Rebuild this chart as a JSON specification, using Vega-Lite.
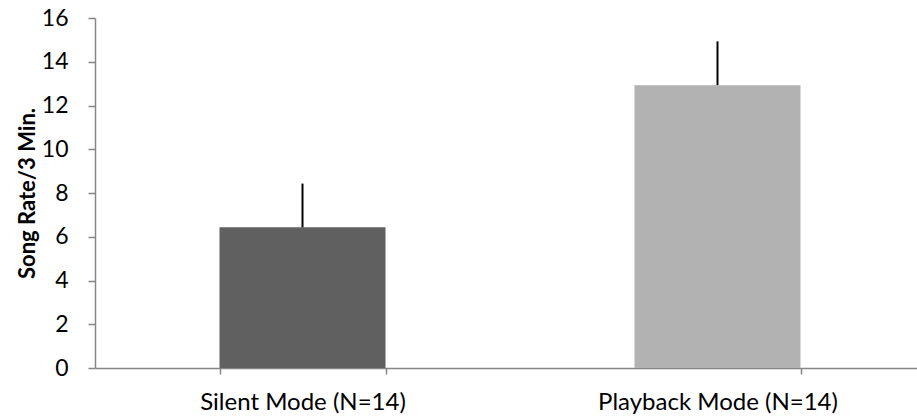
{
  "$schema": "https://vega.github.io/schema/vega-lite/v6.json",
  "autosize": {"type": "none"},
  "padding": {"left": 95, "top": 18, "right": 0, "bottom": 50},
  "width": 830,
  "height": 350,
  "background": "white",
  "config": {"view": {"stroke": null}, "font": "Lato"},
  "data": {"values": [
    {"mode": "Silent Mode (N=14)", "rate": 6.43, "upper": 8.43, "color": "#606060"},
    {"mode": "Playback Mode (N=14)", "rate": 12.93, "upper": 14.93, "color": "#b2b2b2"}
  ]},
  "encoding": {
    "x": {"field": "mode", "type": "nominal", "sort": null,
      "scale": {"paddingInner": 0.6, "paddingOuter": 0.3},
      "axis": {"title": null, "labelAngle": 0, "labelFontSize": 24, "labelColor": "#000000", "labelFont": "Lato", "labelLimit": 0,
        "domainColor": "#868686", "domainWidth": 1.5, "tickColor": "#868686", "tickSize": 6, "tickWidth": 1.5, "tickBand": "extent", "labelPadding": 16, "grid": false}}
  },
  "layer": [
    {
      "mark": {"type": "bar"},
      "encoding": {
        "y": {"field": "rate", "type": "quantitative",
          "scale": {"domain": [0, 16], "nice": false},
          "axis": {"title": "Song Rate/3 Min.", "titleFontSize": 22, "titleFontWeight": "bold", "titleColor": "#000000", "titleFont": "Lato", "titlePadding": 2,
            "values": [0, 2, 4, 6, 8, 10, 12, 14, 16], "labelFontSize": 23, "labelColor": "#000000", "labelFont": "Lato",
            "grid": false, "domainColor": "#868686", "domainWidth": 1.5, "tickColor": "#868686", "tickSize": 7, "tickWidth": 1.5, "labelPadding": 20}},
        "color": {"field": "color", "type": "nominal", "scale": null, "legend": null}
      }
    },
    {
      "mark": {"type": "rule", "color": "#000000", "strokeWidth": 2},
      "encoding": {
        "y": {"field": "rate", "type": "quantitative"},
        "y2": {"field": "upper"}
      }
    }
  ]
}
